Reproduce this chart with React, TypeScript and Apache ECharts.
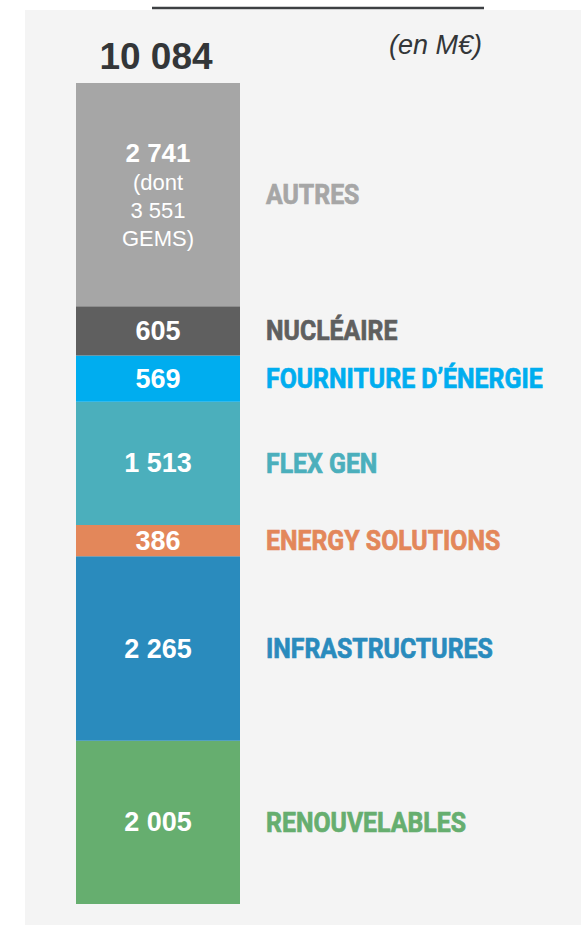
import React, { useEffect, useRef } from "react";
import * as echarts from "echarts";

// Stack order: bottom -> top
const categories = [
  "RENOUVELABLES",
  "INFRASTRUCTURES",
  "ENERGY SOLUTIONS",
  "FLEX GEN",
  "FOURNITURE D’ÉNERGIE",
  "NUCLÉAIRE",
  "AUTRES",
];
const values = [2005, 2265, 386, 1513, 569, 605, 2741];
const colors = ["#66ae6f", "#2a8bbd", "#e3875a", "#4bafbc", "#00adef", "#5f5f5f", "#a6a6a6"];
const autresNote = ["(dont", "3 551", "GEMS)"];
const unitLabel = "(en M€)";

const fmt = (v: number) => String(v).replace(/\B(?=(\d{3})+(?!\d))/g, " ");
const total = values.reduce((a, b) => a + b, 0);

const NUM_FONT = "'Liberation Sans', Arial, Helvetica, sans-serif";
const CAT_FONT = "Roboto, 'Noto Sans', sans-serif";

export default function App() {
  const ref = useRef<HTMLDivElement>(null);

  useEffect(() => {
    if (!ref.current) return;
    const chart = echarts.init(ref.current, null, { renderer: "svg" });

    const series = values.map((v, i) => {
      const isAutres = i === values.length - 1;
      return {
        name: categories[i],
        type: "bar",
        stack: "total",
        barWidth: "100%",
        data: [v],
        itemStyle: { color: colors[i] },
        z: 2,
        label: {
          show: true,
          position: "inside",
          color: "#ffffff",
          fontFamily: NUM_FONT,
          fontWeight: "bold",
          fontSize: 27,
          formatter: isAutres
            ? `{a|${fmt(v)}}\n` + autresNote.map((t) => `{b|${t}}`).join("\n")
            : fmt(v),
          rich: isAutres
            ? {
                a: { fontFamily: NUM_FONT, fontWeight: "bold", fontSize: 26, color: "#fff", lineHeight: 32 },
                b: { fontFamily: NUM_FONT, fontWeight: "normal", fontSize: 22, color: "#fff", lineHeight: 28 },
              }
            : undefined,
        },
      };
    });

    chart.setOption({
      animation: false,
      grid: { left: 76, width: 164, top: 83, bottom: 21, containLabel: false },
      xAxis: { type: "category", data: ["Total"], show: false },
      yAxis: { type: "value", min: 0, max: total, show: false, splitLine: { show: false } },
      series,
    });

    // Position category labels and header via the chart's scales
    let cum = 0;
    const catTexts: any[] = [];
    values.forEach((v, i) => {
      const [cx, cy] = chart.convertToPixel({ gridIndex: 0 }, [0, cum + v / 2]) as number[];
      cum += v;
      catTexts.push({
        type: "text",
        x: cx + 82 + 26,
        y: cy,
        scaleX: 0.92,
        z: 10,
        style: {
          text: categories[i],
          fill: colors[i],
          stroke: colors[i],
          lineWidth: 0.7,
          font: `bold 27px ${CAT_FONT}`,
          align: "left",
          verticalAlign: "middle",
        },
      });
    });
    const [tx, ty] = chart.convertToPixel({ gridIndex: 0 }, [0, total]) as number[];

    chart.setOption({
      graphic: [
        {
          type: "rect",
          z: -10,
          shape: { x: 25, y: 10, width: 556, height: 915 },
          style: { fill: "#f4f4f4" },
          silent: true,
        },
        {
          type: "line",
          z: 10,
          shape: { x1: 152, y1: 8, x2: 484, y2: 8 },
          style: { stroke: "#3d4043", lineWidth: 2.5 },
        },
        {
          type: "text",
          z: 10,
          x: tx - 2,
          y: ty - 27,
          style: {
            text: fmt(total),
            fill: "#333638",
            font: `bold 37px ${NUM_FONT}`,
            align: "center",
            verticalAlign: "middle",
          },
        },
        {
          type: "text",
          z: 10,
          x: 389,
          y: 45,
          style: {
            text: unitLabel,
            fill: "#333638",
            font: `italic 27px ${NUM_FONT}`,
            align: "left",
            verticalAlign: "middle",
          },
        },
        ...catTexts,
      ],
    });

    return () => chart.dispose();
  }, []);

  return (
    <div
      ref={ref}
      style={{ position: "absolute", left: 0, top: 0, width: 581, height: 925, background: "#ffffff" }}
    />
  );
}
